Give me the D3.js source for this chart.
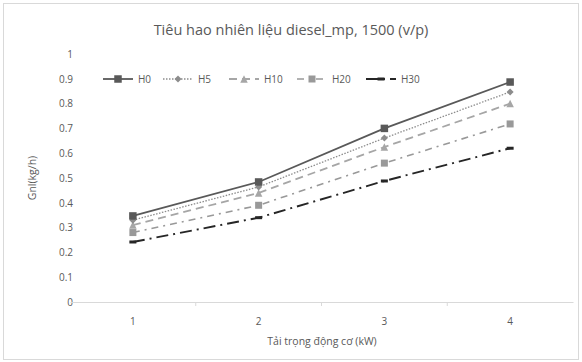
<!DOCTYPE html>
<html>
<head>
<meta charset="utf-8">
<script src="https://cdn.jsdelivr.net/npm/d3@7"></script>
<style>
  body { margin: 0; background: #fff; }
  text { font-family: "Open Sans", "Noto Sans", sans-serif; }
</style>
</head>
<body>
<div id="chart"></div>
<script>
// data
var categories = ["1", "2", "3", "4"];
var seriesNames = ["H0", "H5", "H10", "H20", "H30"];
var h0 = [0.347, 0.484, 0.70, 0.887];
var h5 = [0.33, 0.464, 0.661, 0.847];
var h10 = [0.31, 0.44, 0.625, 0.80];
var h20 = [0.28, 0.39, 0.56, 0.718];
var h30 = [0.242, 0.34, 0.488, 0.62];
var yTicks = [0, 0.1, 0.2, 0.3, 0.4, 0.5, 0.6, 0.7, 0.8, 0.9, 1];

var W = 582, H = 362;
var series = [
    {name: seriesNames[0], values: h0, color: "#595959", dash: null, width: 1.8, marker: "square", msize: 7.5, mcolor: "#595959"},
    {name: seriesNames[1], values: h5, color: "#8c8c8c", dash: "1.5,1.5", width: 1.3, marker: "diamond", msize: 7, mcolor: "#8c8c8c"},
    {name: seriesNames[2], values: h10, color: "#a6a6a6", dash: "8,5", width: 1.8, marker: "triangle", msize: 7.5, mcolor: "#a6a6a6"},
    {name: seriesNames[3], values: h20, color: "#999999", dash: "7,5,2,5", width: 1.6, marker: "square", msize: 7, mcolor: "#999999"},
    {name: seriesNames[4], values: h30, color: "#262626", dash: "12,5,2,5", width: 1.9, marker: "dash", msize: 7, mcolor: "#262626"}
];

var svg = d3.select("#chart").append("svg")
    .attr("width", W)
    .attr("height", H);

svg.append("rect")
    .attr("x", 3.5).attr("y", 3.5)
    .attr("width", 575).attr("height", 356)
    .attr("fill", "#fff")
    .attr("stroke", "#d9d9d9");

var x = d3.scaleBand().domain(categories).range([70, 573]);
var y = d3.scaleLinear().domain([0, 1]).range([302, 54]);

// title
svg.append("text")
    .attr("x", 291).attr("y", 35)
    .attr("text-anchor", "middle")
    .attr("font-size", 14.5)
    .attr("fill", "#595959")
    .text("Tiêu hao nhiên liệu diesel_mp, 1500 (v/p)");

// y axis labels
var yAxis = d3.axisLeft(y).tickValues(yTicks).tickSize(0).tickPadding(0)
    .tickFormat(function (d) { return d === 0 || d === 1 ? d3.format("d")(d) : d3.format(".1f")(d); });
var gy = svg.append("g").attr("transform", "translate(73,0)").call(yAxis);
gy.select(".domain").remove();
gy.selectAll("text").attr("font-size", 10).attr("fill", "#595959").attr("font-family", "Open Sans");

// x axis
var gx = svg.append("g").attr("transform", "translate(0,302)")
    .call(d3.axisBottom(x).tickSize(0).tickPadding(16));
gx.select(".domain").attr("stroke", "#d9d9d9").attr("stroke-width", 1.2);
gx.selectAll("text").attr("font-size", 10).attr("fill", "#595959").attr("font-family", "Open Sans");
// small tick marks between categories
gx.selectAll(".midtick")
    .data(categories.slice(1))
    .enter().append("line")
    .attr("x1", function (d) { return x(d); })
    .attr("x2", function (d) { return x(d); })
    .attr("y1", 0).attr("y2", 4)
    .attr("stroke", "#d9d9d9");

// axis titles
svg.append("text")
    .attr("x", 322).attr("y", 345)
    .attr("text-anchor", "middle")
    .attr("font-size", 10.5)
    .attr("fill", "#595959")
    .text("Tải trọng động cơ (kW)");

svg.append("text")
    .attr("transform", "translate(36,178) rotate(-90)")
    .attr("text-anchor", "middle")
    .attr("font-size", 10.5)
    .attr("fill", "#595959")
    .text("Gnl(kg/h)");

function drawMarker(g, s, cx, cy) {
    var m = s.msize;
    if (s.marker === "square") {
        g.append("rect")
            .attr("x", cx - m / 2).attr("y", cy - m / 2)
            .attr("width", m).attr("height", m)
            .attr("fill", s.mcolor);
    } else if (s.marker === "diamond") {
        g.append("path")
            .attr("d", "M" + cx + "," + (cy - m / 2) + "L" + (cx + m / 2) + "," + cy + "L" + cx + "," + (cy + m / 2) + "L" + (cx - m / 2) + "," + cy + "Z")
            .attr("fill", s.mcolor);
    } else if (s.marker === "triangle") {
        g.append("path")
            .attr("d", "M" + cx + "," + (cy - m / 2) + "L" + (cx + m / 2) + "," + (cy + m / 2) + "L" + (cx - m / 2) + "," + (cy + m / 2) + "Z")
            .attr("fill", s.mcolor);
    } else if (s.marker === "dash") {
        g.append("rect")
            .attr("x", cx - m / 2).attr("y", cy - 1.5)
            .attr("width", m).attr("height", 3)
            .attr("fill", s.mcolor);
    }
}

var line = d3.line()
    .x(function (d, i) { return x(categories[i]) + x.bandwidth() / 2; })
    .y(function (d) { return y(d); });

var plot = svg.append("g");
series.slice().reverse().forEach(function (s) {
    var g = plot.append("g");
    g.append("path")
        .datum(s.values)
        .attr("d", line)
        .attr("fill", "none")
        .attr("stroke", s.color)
        .attr("stroke-width", s.width)
        .attr("stroke-dasharray", s.dash);
    s.values.forEach(function (v, i) {
        drawMarker(g, s, x(categories[i]) + x.bandwidth() / 2, y(v));
    });
});

// legend
var legendX = [103, 163, 229, 297, 366];
var legend = svg.append("g").attr("transform", "translate(0,79)");
series.forEach(function (s, i) {
    var g = legend.append("g").attr("transform", "translate(" + legendX[i] + ",0)");
    g.append("line")
        .attr("x1", 0).attr("x2", 30)
        .attr("y1", 0).attr("y2", 0)
        .attr("stroke", s.color)
        .attr("stroke-width", s.width)
        .attr("stroke-dasharray", s.dash);
    drawMarker(g, s, 15, 0);
    g.append("text")
        .attr("x", 35).attr("y", 3.5)
        .attr("font-size", 10)
        .attr("fill", "#595959")
        .text(s.name);
});
</script>
</body>
</html>
